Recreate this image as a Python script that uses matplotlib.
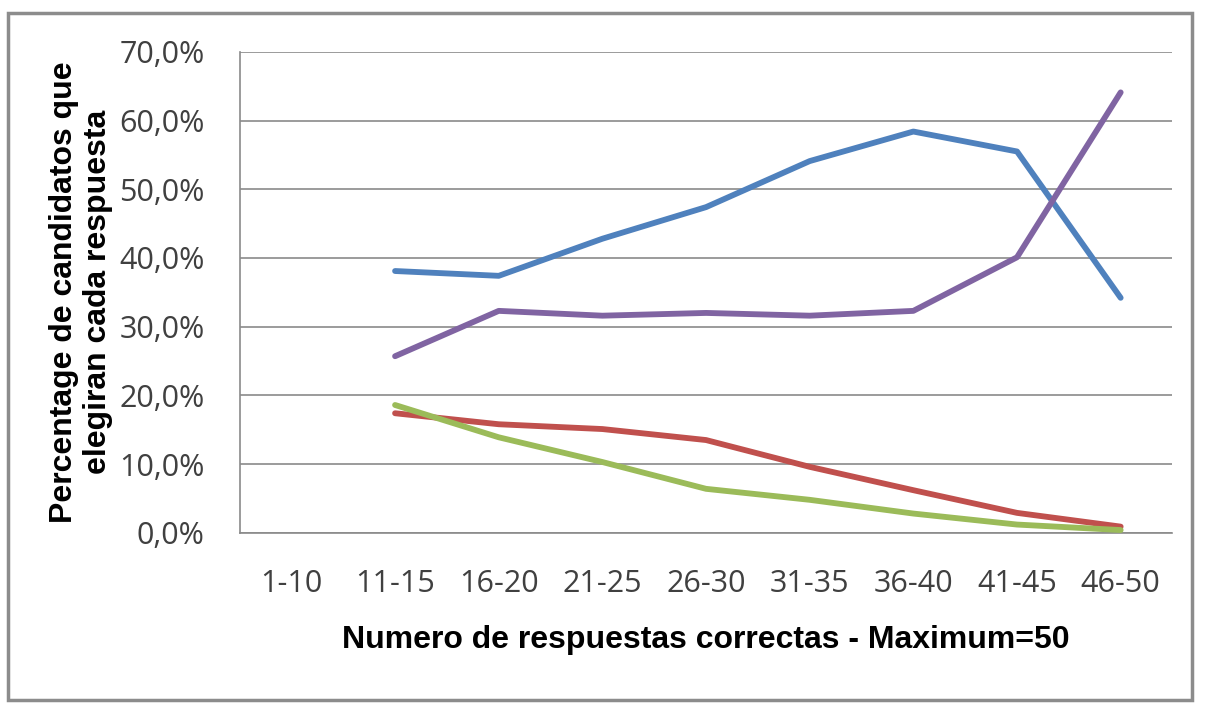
import matplotlib
matplotlib.use("Agg")
import matplotlib.pyplot as plt
from matplotlib.patches import Rectangle
from matplotlib.ticker import FuncFormatter

# data (percent)
categories = ["1-10", "11-15", "16-20", "21-25", "26-30", "31-35", "36-40", "41-45", "46-50"]
serie_azul = [None, 38.1, 37.4, 42.8, 47.4, 54.1, 58.4, 55.5, 34.2]
serie_roja = [None, 17.4, 15.8, 15.1, 13.5, 9.6, 6.2, 2.9, 0.9]
serie_verde = [None, 18.6, 13.9, 10.3, 6.4, 4.8, 2.8, 1.2, 0.4]
serie_morada = [None, 25.7, 32.3, 31.6, 32.0, 31.6, 32.3, 40.1, 64.1]
y_ticks = [0, 10, 20, 30, 40, 50, 60, 70]

def to_xy(vals):
    xs = [i for i, v in enumerate(vals) if v is not None]
    ys = [v for v in vals if v is not None]
    return xs, ys

fig = plt.figure(figsize=(12.1, 7.2), dpi=100)
ax = fig.add_axes([0.198, 0.26, 0.771, 0.668])

for vals, col in [(serie_azul, "#4F81BD"), (serie_roja, "#C0504D"),
                  (serie_verde, "#9BBB59"), (serie_morada, "#8064A2")]:
    xs, ys = to_xy(vals)
    ax.plot(xs, ys, color=col, linewidth=4.2, solid_capstyle="round", zorder=3)

ax.set_xlim(-0.5, len(categories) - 0.5)
ax.set_ylim(0, 70)
ax.set_yticks(y_ticks)
ax.yaxis.set_major_formatter(FuncFormatter(lambda v, p: f"{v:.1f}%".replace(".", ",")))
ax.set_xticks(range(len(categories)))
ax.set_xticklabels(categories)
ax.grid(axis="y", color="#8a8a8a", linewidth=1.2)
ax.set_axisbelow(True)
for s in ["top", "right"]:
    ax.spines[s].set_visible(False)
for s in ["left", "bottom"]:
    ax.spines[s].set_color("#8a8a8a")
    ax.spines[s].set_linewidth(1.2)
ax.tick_params(length=0, labelsize=22, labelcolor="#404040")
ax.tick_params(axis="y", pad=25)
ax.tick_params(axis="x", pad=26)
for lab in ax.get_xticklabels() + ax.get_yticklabels():
    lab.set_family("Open Sans")

fig.text(0.5835, 0.111, "Numero de respuestas correctas - Maximum=50",
         ha="center", va="center", fontsize=23, fontweight="bold", family="Liberation Sans")
fig.text(0.067, 0.594, "Percentage de candidatos que\nelegiran cada respuesta",
         ha="center", va="center", rotation=90, fontsize=23, fontweight="bold",
         family="Liberation Sans", linespacing=1.15)

fig.patches.append(Rectangle((8 / 1210, 1 - 700 / 720), 1184 / 1210, 687 / 720,
                             transform=fig.transFigure, fill=False,
                             edgecolor="#8c8c8c", linewidth=2.5))

fig.savefig("out.png", dpi=100)
